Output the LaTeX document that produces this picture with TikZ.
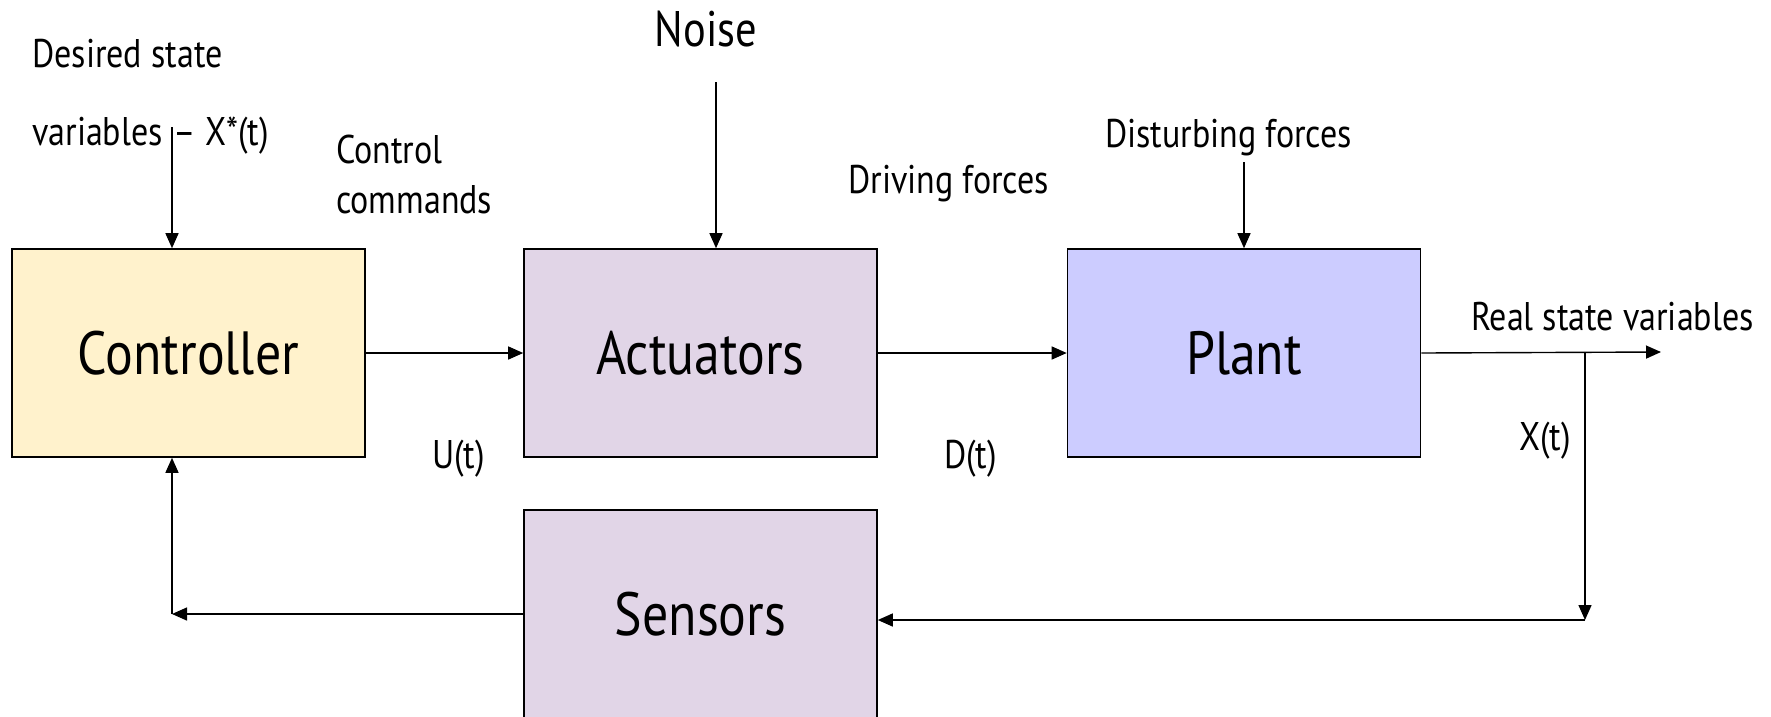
\documentclass[tikz,border=0pt]{standalone}
\usepackage{fontspec}
\setmainfont{PT Sans}[FakeStretch=0.85]
\usetikzlibrary{arrows.meta,calc}
\definecolor{ctrlfill}{HTML}{FFF2CC}
\definecolor{actfill}{HTML}{E1D5E7}
\definecolor{plantfill}{HTML}{CCCCFF}
\tikzset{
  blockbox/.style={draw=black, line width=1.6pt, minimum width=353pt, minimum height=208pt, inner sep=0pt, font=\fontsize{61}{70}\selectfont},
  lbl/.style={inner sep=0pt, font=\fontsize{40}{46}\selectfont},
  arr/.style={line width=1.4pt, -{Triangle[length=15pt,width=13pt]}},
  ln/.style={line width=1.4pt}
}
\begin{document}
\begin{tikzpicture}[x=1pt,y=-1pt]
\useasboundingbox (0,0) rectangle (1771,716);
\begin{scope}
\clip (0,0) rectangle (1771,716);
\node[blockbox, fill=ctrlfill] (ctrl) at (188.5,353) {Controller};
\node[blockbox, fill=actfill] (act) at (700.5,353) {Actuators};
\node[blockbox, fill=plantfill] (plant) at (1244,353) {Plant};
\node[blockbox, fill=actfill] (sens) at (700.5,614) {Sensors};
\end{scope}
% labels
\node[lbl, anchor=base west] (des1) at (32,67) {Desired state};
\node[lbl, anchor=base west] (des2) at (32,145) {variables \hspace{2pt}– X*(t)};
\node[lbl, anchor=base west] (cc1) at (336,163) {Control};
\node[lbl, anchor=base west] (cc2) at (336,213) {commands};
\node[lbl, anchor=base, font=\fontsize{50}{56}\selectfont] (noise) at (706,46) {Noise};
\node[lbl, anchor=base west] (drv) at (848,193) {Driving forces};
\node[lbl, anchor=base west] (dist) at (1105,147) {Disturbing forces};
\node[lbl, anchor=base west] (real) at (1471,330) {Real state variables};
\node[lbl, anchor=base west] (ut) at (432,468) {U(t)};
\node[lbl, anchor=base west] (dt) at (944,468) {D(t)};
\node[lbl, anchor=base west] (xt) at (1519,450) {X(t)};
% coordinates
\coordinate (din) at (172,127);
\coordinate (nin) at (716,82);
\coordinate (fin) at (1244,162);
\coordinate (out) at (1661,352);
\coordinate (br) at (1585,352);
\coordinate (brd) at (1585,620);
\coordinate (fbl) at (172,614);
% connectors
\draw[arr] (din) -- (din |- ctrl.north);
\draw[arr] (nin) -- (nin |- act.north);
\draw[arr] (fin) -- (plant.north);
\draw[arr] (ctrl.east) -- (act.west);
\draw[arr] (act.east) -- (plant.west);
\draw[arr] (plant.east) -- (out);
\draw[arr] (br) -- (brd);
\draw[arr] (brd) -- (brd -| sens.east);
\draw[arr] (sens.west) -- (fbl);
\draw[arr] (fbl) -- (fbl |- ctrl.south);
\end{tikzpicture}
\end{document}
